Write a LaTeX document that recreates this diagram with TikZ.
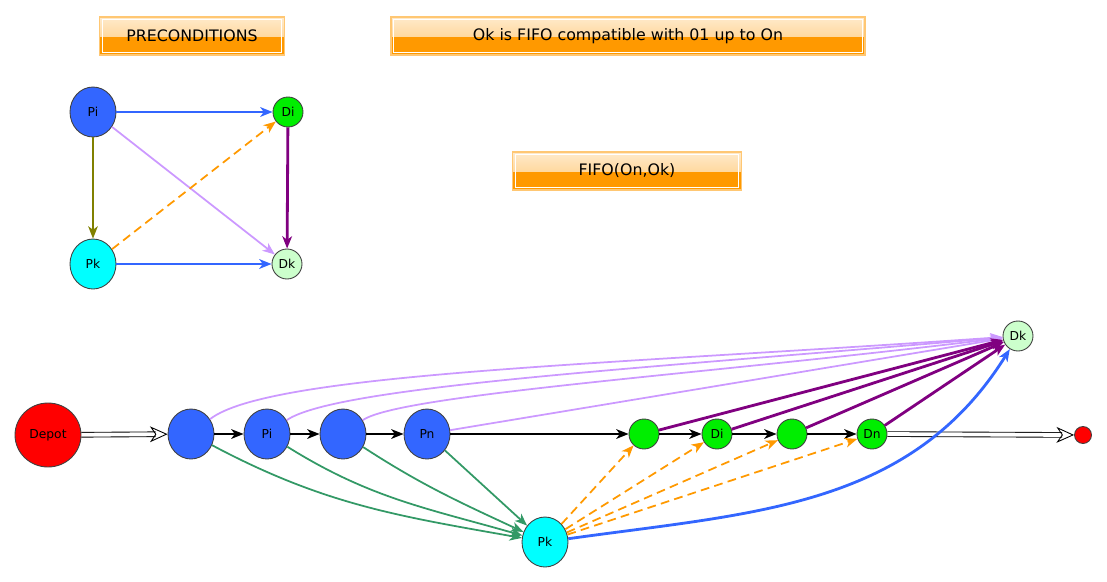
\documentclass[tikz,border=0pt]{standalone}
\usepackage{fontspec}
\setmainfont{DejaVu Sans}
\usetikzlibrary{arrows.meta, shapes.geometric}
\definecolor{pblue}{HTML}{3366FF}
\definecolor{pcyan}{HTML}{00FFFF}
\definecolor{dgreen}{HTML}{00EE00}
\definecolor{dpale}{HTML}{CCFFCC}
\definecolor{lav}{HTML}{CC99FF}
\definecolor{purp}{HTML}{800080}
\definecolor{olivegr}{HTML}{808000}
\definecolor{orng}{HTML}{FF9900}
\definecolor{orngpale}{HTML}{FFD9A0}
\definecolor{sea}{HTML}{339966}

\begin{document}
\begin{tikzpicture}[x=0.02cm, y=0.02cm, >={Stealth[length=7pt,width=5.5pt,inset=2pt]},
    titlebox/.style={draw=orng!55, line width=1pt, minimum height=0.76cm, inner sep=0pt,
        font=\fontsize{9}{10}\selectfont,
        path picture={
            \fill[orng] (path picture bounding box.south west) rectangle (path picture bounding box.east);
            \shade[top color=orngpale!55, bottom color=orngpale] (path picture bounding box.north west) rectangle (path picture bounding box.east);
            \draw[white, line width=0.6pt] ([shift={(1.6pt,-1.6pt)}]path picture bounding box.north west) rectangle ([shift={(-1.6pt,1.6pt)}]path picture bounding box.south east);
        }},
    vtx/.style={ellipse, draw=black!75, line width=0.5pt, inner sep=0pt, font=\fontsize{7}{8}\selectfont},
    bigvtx/.style={vtx, minimum width=0.92cm, minimum height=1cm},
    smallvtx/.style={vtx, minimum width=0.6cm, minimum height=0.6cm},
    edgeblue/.style={->, pblue, line width=1.6pt},
    edgelav/.style={->, lav, line width=1pt},
    edgeolive/.style={->, olivegr, line width=1pt},
    edgeorng/.style={->, orng, line width=1pt, dash pattern=on 5pt off 3pt},
    edgepurp/.style={->, purp, line width=1.6pt},
    edgegreen/.style={->, sea, line width=1pt},
    edgeblack/.style={->, black, line width=1.1pt},
    edgedouble/.style={-{Stealth[open,length=10pt,width=9pt,inset=3pt]}, double=white, double distance=2.2pt, line width=0.5pt}]
            \useasboundingbox (0,0) rectangle (1107,-582);

            % title boxes
            \node[titlebox, minimum width=3.7cm] (pre) at (192,-36) {PRECONDITIONS};
            \node[titlebox, minimum width=9.48cm] (okfifo) at (628,-36) {Ok is FIFO compatible with 01 up to On};
            \node[titlebox, minimum width=4.58cm] (fifo) at (627,-171) {FIFO(On,Ok)};

            % preconditions graph
            \node[bigvtx, fill=pblue] (PiT) at (93,-112) {Pi};
            \node[bigvtx, fill=pcyan] (PkT) at (93,-264) {Pk};
            \node[smallvtx, fill=dgreen] (DiT) at (288,-112) {Di};
            \node[smallvtx, fill=dpale] (DkT) at (287,-264) {Dk};
            \draw[edgeblue] (PiT) -- (DiT);
            \draw[edgeblue] (PkT) -- (DkT);
            \draw[edgeolive] (PiT) -- (PkT);
            \draw[edgelav] (PiT) -- (DkT);
            \draw[edgeorng] (PkT) -- (DiT);
            \draw[edgepurp] (DiT) -- (DkT);

            % depot and the route
            \node[vtx, fill=red, minimum width=1.32cm, minimum height=1.28cm] (depot) at (48,-435) {Depot};
            \node[bigvtx, fill=pblue] (P1) at (191,-434) {};
            \node[bigvtx, fill=pblue] (Pi) at (267,-434) {Pi};
            \node[bigvtx, fill=pblue] (P3) at (343,-434) {};
            \node[bigvtx, fill=pblue] (Pn) at (427,-434) {Pn};
            \node[smallvtx, fill=dgreen] (D1) at (644,-434) {};
            \node[smallvtx, fill=dgreen] (Di) at (717,-434) {Di};
            \node[smallvtx, fill=dgreen] (D3) at (792,-434) {};
            \node[smallvtx, fill=dgreen] (Dn) at (872,-434) {Dn};
            \node[vtx, fill=red, minimum width=0.34cm, minimum height=0.34cm] (depotend) at (1083,-435) {};

            % inserted order k
            \node[bigvtx, fill=pcyan] (Pk) at (545,-542) {Pk};
            \node[smallvtx, fill=dpale] (Dk) at (1018,-336) {Dk};

            % route arcs
            \draw[edgedouble] (depot) -- (P1);
            \draw[edgeblack] (P1) -- (Pi);
            \draw[edgeblack] (Pi) -- (P3);
            \draw[edgeblack] (P3) -- (Pn);
            \draw[edgeblack] (Pn) -- (D1);
            \draw[edgeblack] (D1) -- (Di);
            \draw[edgeblack] (Di) -- (D3);
            \draw[edgeblack] (D3) -- (Dn);
            \draw[edgedouble] (Dn) -- (depotend);

            % pickups before k to Dk
            \draw[edgelav] (P1) to[out=38, in=184, out distance=1.5cm, in distance=8cm] (Dk);
            \draw[edgelav] (Pi) to[out=35, in=185, out distance=1.2cm, in distance=7cm] (Dk);
            \draw[edgelav] (P3) to[out=35, in=187, out distance=0.9cm, in distance=6cm] (Dk);
            \draw[edgelav] (Pn) -- (Dk);

            % pickups before k to Pk
            \draw[edgegreen] (P1) to[out=-28, in=170] (Pk);
            \draw[edgegreen] (Pi) to[out=-32, in=164] (Pk);
            \draw[edgegreen] (P3) to[out=-33, in=155] (Pk);
            \draw[edgegreen] (Pn) -- (Pk);

            % Pk to the deliveries
            \draw[edgeorng] (Pk) -- (D1);
            \draw[edgeorng] (Pk) -- (Di);
            \draw[edgeorng] (Pk) -- (D3);
            \draw[edgeorng] (Pk) -- (Dn);

            % deliveries to Dk
            \draw[edgepurp] (D1) -- (Dk);
            \draw[edgepurp] (Di) -- (Dk);
            \draw[edgepurp] (D3) -- (Dk);
            \draw[edgepurp] (Dn) -- (Dk);

            % Pk to Dk
            \draw[edgeblue] (Pk) to[out=8, in=238] (Dk);
\end{tikzpicture}
\end{document}
